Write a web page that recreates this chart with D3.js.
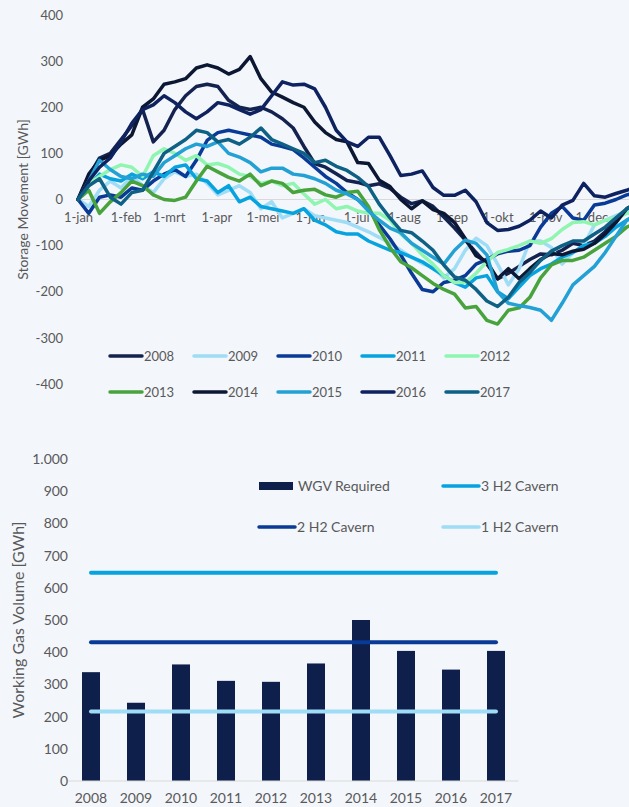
<!DOCTYPE html>
<html>
<head>
<meta charset="utf-8">
<script src="https://cdn.jsdelivr.net/npm/d3@7"></script>
<style>
  html, body { margin: 0; padding: 0; background: #f3f6fb; }
  svg { display: block; font-family: Lato, "Open Sans", sans-serif; }
</style>
</head>
<body>
<svg id="chart" width="629" height="807"></svg>
<script>
// ---- top chart: weekly storage movement per year (GWh)
const years = ["2008", "2009", "2010", "2011", "2012", "2013", "2014", "2015", "2016", "2017"];
const yearColors = ["#14224f", "#9fdcf5", "#093a96", "#06a3df", "#8ff5b0", "#48a33c", "#0b1733", "#23a1d4", "#0e2260", "#0e6084"];
const weekDays = d3.range(0, 365, 7);

const s2008 = [0, 50, 90, 100, 130, 160, 195, 125, 150, 195,
  225, 245, 250, 245, 215, 200, 195, 200, 190, 175,
  155, 115, 78, 70, 56, 41, 37, 30, 34, 24,
  5, -9, -3, -15, -38, -62, -88, -115, -140, -172,
  -160, -145, -130, -118, -120, -110, -95, -100, -90, -70,
  -45, -25, -10];
const s2009 = [0, -15, 20, 40, 25, 50, 30, 15, 45, 60,
  50, 55, 35, 10, 20, 30, 15, -20, -5, -40,
  -30, -20, -35, -40, -45, -50, -60, -70, -82, -95,
  -110, -125, -139, -147, -170, -150, -110, -84, -100, -140,
  -185, -150, -90, -90, -104, -140, -115, -100, -55, -45,
  -35, -25, -15];
const s2010 = [0, -30, 5, 10, 5, 25, 20, 40, 55, 65,
  50, 85, 128, 145, 150, 145, 140, 135, 120, 115,
  108, 90, 70, 50, 35, 15, 0, -20, -55, -85,
  -120, -160, -195, -200, -180, -175, -165, -140, -130, -118,
  -112, -110, -100, -60, -30, -15, -40, -45, -12, -8,
  0, 10, 15];
const s2011 = [0, 30, 55, 45, 40, 55, 45, 60, 50, 70,
  75, 45, 40, 15, 30, -5, 5, -15, -20, -25,
  -30, -20, -45, -55, -70, -75, -75, -90, -100, -110,
  -115, -125, -135, -150, -165, -180, -190, -170, -165, -200,
  -215, -190, -165, -150, -140, -125, -115, -100, -95, -80,
  -60, -45, -35];
const s2012 = [0, 35, 50, 65, 75, 70, 50, 95, 110, 100,
  85, 95, 75, 78, 70, 55, 50, 35, 40, 30,
  35, 12, -10, 0, -20, -15, -25, -30, -30, -45,
  -75, -95, -120, -140, -165, -180, -180, -160, -135, -115,
  -108, -100, -90, -95, -85, -65, -50, -48, -55, -45,
  -40, -30, -25];
const s2013 = [0, 20, -30, -5, 15, 40, 30, 10, 0, -2,
  5, 40, 72, 60, 48, 40, 55, 30, 40, 35,
  15, 20, 22, 10, 5, 15, 18, -15, -65, -104,
  -135, -148, -165, -182, -195, -205, -235, -232, -262, -270,
  -240, -235, -212, -170, -142, -132, -132, -125, -110, -95,
  -80, -60, -50];
const s2014 = [0, 55, 85, 95, 120, 140, 200, 218, 250, 255,
  262, 285, 292, 285, 272, 282, 310, 262, 233, 222,
  210, 200, 168, 145, 130, 125, 80, 78, 42, 28,
  0, -20, -3, -22, -30, -50, -85, -122, -135, -172,
  -150, -172, -150, -130, -117, -120, -112, -108, -95, -75,
  -50, -20, -5];
const s2015 = [0, 40, 85, 65, 50, 45, 55, 50, 80, 95,
  110, 120, 115, 125, 100, 92, 80, 60, 68, 68,
  55, 52, 45, 35, 20, 12, 0, -25, -45, -62,
  -72, -95, -110, -125, -140, -110, -88, -95, -120, -200,
  -225, -230, -234, -240, -262, -225, -185, -165, -145, -115,
  -80, -45, -30];
const s2016 = [0, 40, 70, 90, 125, 165, 195, 205, 225, 210,
  190, 175, 190, 210, 205, 195, 185, 195, 225, 255,
  248, 250, 240, 200, 150, 125, 115, 135, 135, 95,
  52, 55, 62, 26, 9, 9, 20, -5, -50, -67,
  -65, -58, -45, -25, -40, -12, -2, 35, 8, 5,
  13, 20, 30];
const s2017 = [0, 30, 45, 5, -10, 15, 20, 60, 100, 115,
  130, 150, 145, 125, 130, 120, 135, 155, 130, 120,
  110, 100, 80, 85, 72, 63, 48, 28, -10, -40,
  -67, -72, -90, -110, -142, -168, -175, -195, -220, -232,
  -212, -180, -158, -132, -112, -100, -90, -90, -75, -60,
  -40, -20, -10];
const seriesValues = [s2008, s2009, s2010, s2011, s2012, s2013, s2014, s2015, s2016, s2017];

const monthLabels = ["1-jan", "1-feb", "1-mrt", "1-apr", "1-mei", "1-jun", "1-jul", "1-aug", "1-sep", "1-okt", "1-nov", "1-dec"];
const monthDays = [0, 31, 59, 90, 120, 151, 181, 212, 243, 273, 304, 334];
const movementTicks = [-400, -300, -200, -100, 0, 100, 200, 300, 400];

// ---- bottom chart: working gas volume
const barYears = years;
const wgvRequired = [338, 243, 362, 311, 308, 365, 500, 404, 346, 404];
const cavernNames = ["3 H2 Cavern", "2 H2 Cavern", "1 H2 Cavern"];
const cavernLevels = [647, 431, 216];
const cavernColors = ["#06a3df", "#093a96", "#9fdcf5"];
const volumeTicks = d3.range(0, 1001, 100);

const textColor = "#595959";
const gridColor = "#d9d9d9";
const svg = d3.select("#chart");
const nl = d3.formatLocale({ decimal: ",", thousands: ".", grouping: [3], currency: ["€", ""], minus: "-" });

// ================= top chart =================
const x = d3.scaleLinear().domain([0, 365]).range([78, 639]);
const y = d3.scaleLinear().domain([-400, 400]).range([384, 15]);

const yAx = svg.append("g")
  .attr("transform", "translate(63,0)")
  .call(d3.axisLeft(y).tickValues(movementTicks).tickFormat(nl.format("d")).tickSize(0).tickPadding(0));
yAx.select(".domain").remove();
yAx.attr("font-family", null).attr("font-size", 13);
yAx.selectAll("text").attr("fill", textColor);

svg.append("text")
  .attr("transform", `translate(28,${y(0)}) rotate(-90)`)
  .attr("text-anchor", "middle")
  .attr("font-size", 14)
  .attr("fill", textColor)
  .text("Storage Movement [GWh]");

svg.append("line")
  .attr("x1", x(0)).attr("x2", x(365))
  .attr("y1", y(0)).attr("y2", y(0))
  .attr("stroke", gridColor).attr("stroke-width", 1.2);

const xAx = svg.append("g")
  .attr("transform", `translate(0,${y(0)})`)
  .call(d3.axisBottom(x).tickValues(monthDays)
    .tickFormat((d, i) => monthLabels[i]).tickSize(0).tickPadding(13));
xAx.select(".domain").remove();
xAx.attr("font-family", null).attr("font-size", 13);
xAx.selectAll("text").attr("fill", textColor);

const line = d3.line()
  .x((d, i) => x(weekDays[i]))
  .y(d => y(d));

svg.append("g")
  .selectAll("path")
  .data(seriesValues)
  .join("path")
  .attr("d", line)
  .attr("fill", "none")
  .attr("stroke", (d, i) => yearColors[i])
  .attr("stroke-width", 3.5)
  .attr("stroke-linejoin", "round")
  .attr("stroke-linecap", "round");

const legTop = svg.append("g").attr("font-size", 13);
years.forEach((yr, i) => {
  const lx = 110 + (i % 5) * 84;
  const ly = i < 5 ? 356 : 392;
  legTop.append("line")
    .attr("x1", lx).attr("x2", lx + 32)
    .attr("y1", ly).attr("y2", ly)
    .attr("stroke", yearColors[i]).attr("stroke-width", 3.5)
    .attr("stroke-linecap", "round");
  legTop.append("text")
    .attr("x", lx + 34).attr("y", ly)
    .attr("dy", "0.35em")
    .attr("fill", textColor)
    .text(yr);
});

// ================= bottom chart =================
const xb = d3.scaleBand().domain(barYears).range([68.5, 518.5])
  .paddingInner(0.6).paddingOuter(0.3);
const yb = d3.scaleLinear().domain([0, 1000]).range([781, 459]);

const ybAx = svg.append("g")
  .attr("transform", "translate(68,0)")
  .call(d3.axisLeft(yb).tickValues(volumeTicks).tickFormat(nl.format(",")).tickSize(0).tickPadding(0));
ybAx.select(".domain").remove();
ybAx.attr("font-family", null).attr("font-size", 14);
ybAx.selectAll("text").attr("fill", textColor);

svg.append("text")
  .attr("transform", `translate(24,${(yb(0) + yb(1000)) / 2}) rotate(-90)`)
  .attr("text-anchor", "middle")
  .attr("font-size", 16)
  .attr("fill", textColor)
  .text("Working Gas Volume [GWh]");

svg.append("g")
  .selectAll("rect")
  .data(wgvRequired)
  .join("rect")
  .attr("x", (d, i) => xb(barYears[i]))
  .attr("width", xb.bandwidth())
  .attr("y", d => yb(d))
  .attr("height", d => yb(0) - yb(d))
  .attr("fill", "#0f1f4b");

svg.append("line")
  .attr("x1", 68.5).attr("x2", 518.5)
  .attr("y1", yb(0)).attr("y2", yb(0))
  .attr("stroke", gridColor).attr("stroke-width", 1.2);

const firstC = xb(barYears[0]) + xb.bandwidth() / 2;
const lastC = xb(barYears[barYears.length - 1]) + xb.bandwidth() / 2;
svg.append("g")
  .selectAll("line")
  .data(cavernLevels)
  .join("line")
  .attr("x1", firstC).attr("x2", lastC)
  .attr("y1", d => yb(d)).attr("y2", d => yb(d))
  .attr("stroke", (d, i) => cavernColors[i])
  .attr("stroke-width", 4)
  .attr("stroke-linecap", "round");

svg.append("g")
  .attr("font-size", 14)
  .selectAll("text")
  .data(barYears)
  .join("text")
  .attr("x", d => xb(d) + xb.bandwidth() / 2)
  .attr("y", 803)
  .attr("text-anchor", "middle")
  .attr("fill", textColor)
  .text(d => d);

// legend: WGV Required, 3 H2, 2 H2, 1 H2
const legB = svg.append("g").attr("font-size", 14).attr("fill", textColor);
legB.append("rect").attr("x", 259).attr("y", 482).attr("width", 34).attr("height", 8).attr("fill", "#0f1f4b");
legB.append("text").attr("x", 298).attr("y", 486).attr("dy", "0.35em").text("WGV Required");
const legPos = [[443, 486], [259, 527], [443, 527]];
cavernNames.forEach((name, i) => {
  const [lx, ly] = legPos[i];
  legB.append("line")
    .attr("x1", lx).attr("x2", lx + 36)
    .attr("y1", ly).attr("y2", ly)
    .attr("stroke", cavernColors[i]).attr("stroke-width", 3.5)
    .attr("stroke-linecap", "round");
  legB.append("text").attr("x", lx + 38).attr("y", ly).attr("dy", "0.35em").text(name);
});
</script>
</body>
</html>
